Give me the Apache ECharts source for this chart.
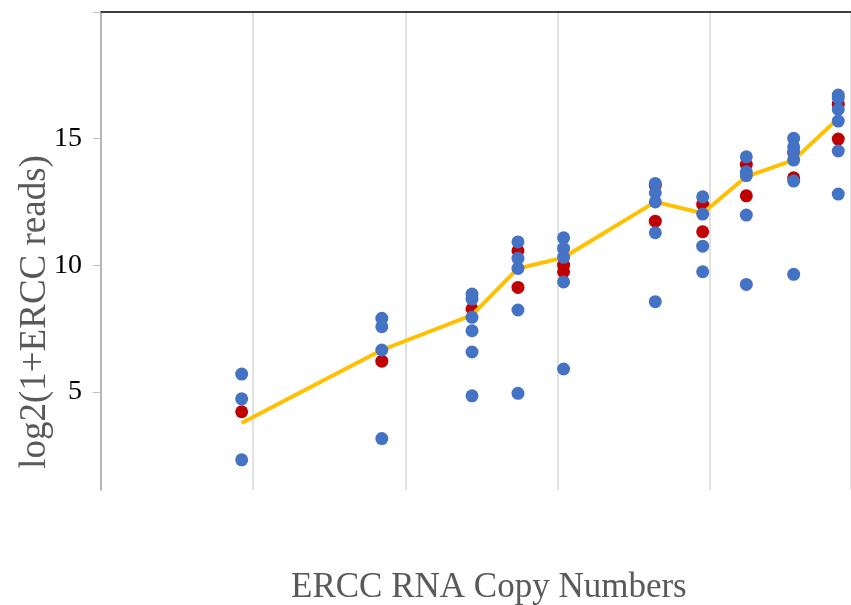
<!DOCTYPE html>
<html>
<head>
<meta charset="utf-8">
<script src="https://cdn.jsdelivr.net/npm/echarts@6/dist/echarts.min.js"></script>
<style>
  html, body { margin: 0; padding: 0; background: #fff; }
  #chart { width: 851px; height: 605px; }
</style>
</head>
<body>
<div id="chart"></div>
<script>
// ERCC spike-in copy numbers (one column of points per spike-in level)
const copyNumbers = [8.4, 70, 274, 549, 1095, 4385, 8980, 17380, 35570, 69840];

// log2(1+reads) per sample, grouped by copy-number level
const blueReads = [
  [5.70, 4.72, 2.31],
  [7.90, 7.57, 6.65, 3.15],
  [8.86, 8.66, 7.94, 7.41, 6.57, 4.84],
  [10.92, 10.27, 9.87, 8.23, 4.94],
  [11.08, 10.66, 10.31, 9.34, 5.90],
  [13.23, 12.86, 12.50, 11.28, 8.56],
  [12.70, 12.02, 10.75, 9.74],
  [14.28, 13.69, 13.54, 11.98, 9.24],
  [15.01, 14.67, 14.48, 14.15, 13.32, 9.64],
  [16.72, 16.60, 16.15, 15.69, 14.51, 12.81]
];
const redReads = [
  [4.21],
  [6.21],
  [8.27],
  [10.57, 9.12],
  [10.00, 9.74],
  [13.16, 11.74],
  [12.40, 11.32],
  [13.98, 12.74],
  [14.43, 13.45],
  [16.36, 14.98]
];

// Mean trend across samples at each level
const trendReads = [3.77, 6.65, 8.03, 9.87, 10.30, 12.50, 12.05, 13.50, 14.15, 15.80];

// Y tick labels
const yTickLabels = [5, 10, 15];

function toPoints(groups) {
  const pts = [];
  groups.forEach((vals, i) => vals.forEach(v => pts.push([copyNumbers[i], v])));
  return pts;
}

const chart = echarts.init(document.getElementById('chart'));
const serif = '"Liberation Serif", "Times New Roman", serif';

chart.setOption({
  animation: false,
  backgroundColor: '#ffffff',
  grid: { left: 101, top: 12, right: 0, bottom: 115, containLabel: false },
  title: {
    text: 'ERCC RNA Copy Numbers',
    left: 291,
    top: 570,
    padding: 0,
    textStyle: { fontFamily: serif, fontSize: 35, fontWeight: 'normal', color: '#595959' }
  },
  graphic: [{
    type: 'text',
    x: 35,
    y: 312,
    rotation: Math.PI / 2,
    style: {
      text: 'log2(1+ERCC reads)',
      font: '37px ' + serif,
      fill: '#595959',
      align: 'center',
      verticalAlign: 'middle'
    }
  }],
  xAxis: {
    type: 'log',
    logBase: 10,
    min: 1,
    max: 84680,
    position: 'top',
    axisLine: { show: true, lineStyle: { color: '#000', width: 1.5 } },
    axisTick: { show: false },
    axisLabel: { show: false },
    splitLine: { show: true, lineStyle: { color: '#d9d9d9', width: 1.5 } }
  },
  yAxis: {
    type: 'value',
    min: 1.12,
    max: 20,
    axisLine: { show: true, lineStyle: { color: '#a6a6a6', width: 1.5 } },
    axisTick: { show: true, length: 8, customValues: [5, 10, 15, 20], lineStyle: { color: '#bfbfbf', width: 1 } },
    axisLabel: {
      customValues: yTickLabels,
      margin: 19,
      fontFamily: serif,
      fontSize: 28,
      color: '#000'
    },
    splitLine: { show: false }
  },
  series: [
    {
      name: 'red',
      type: 'scatter',
      z: 2,
      symbolSize: 13,
      itemStyle: { color: '#C00000', opacity: 1 },
      data: toPoints(redReads)
    },
    {
      name: 'trend',
      type: 'line',
      z: 3,
      symbol: 'none',
      lineStyle: { color: '#FFC000', width: 4 },
      data: copyNumbers.map((c, i) => [c, trendReads[i]])
    },
    {
      name: 'blue',
      type: 'scatter',
      z: 4,
      symbolSize: 13,
      itemStyle: { color: '#4472C4', opacity: 1 },
      data: toPoints(blueReads)
    }
  ]
});
</script>
</body>
</html>
